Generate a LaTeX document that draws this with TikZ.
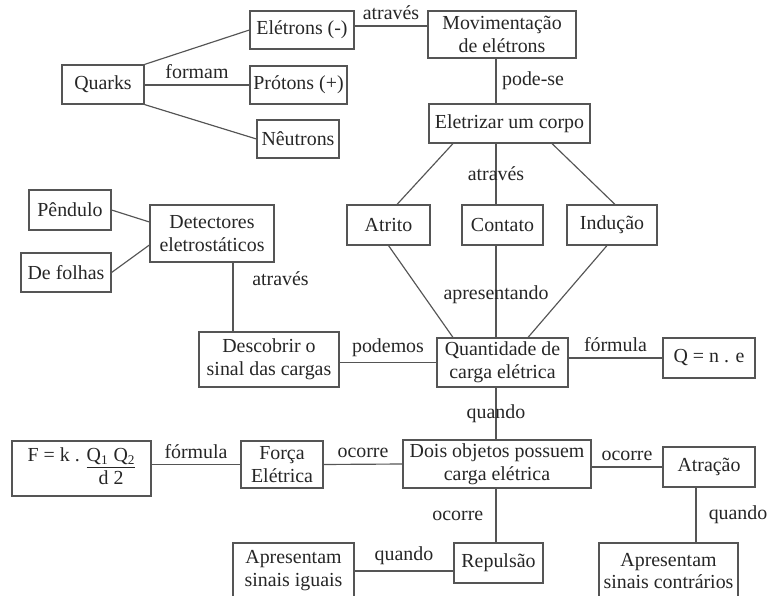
\documentclass[tikz,border=0pt]{standalone}
\usepackage{fontspec}
\setmainfont{Liberation Serif}
\usetikzlibrary{calc}
\definecolor{inkgray}{HTML}{262626}
\definecolor{linegray}{HTML}{555555}

\begin{document}
\begin{tikzpicture}[
  x=0.603pt, y=-0.603pt,
  concept/.style={draw=linegray,line width=0.7pt,inner sep=2pt,align=center,
                  font=\fontsize{12}{13.8}\selectfont,text=inkgray},
  dims/.style 2 args={minimum width=#1pt,minimum height=#2pt},
  word/.style={font=\fontsize{12}{13.8}\selectfont,text=inkgray},
  link/.style={draw=linegray,line width=0.7pt},
]
  \useasboundingbox (0,0) rectangle (767,596);

  % guide lines for the vertical connectors
  \coordinate (toprow) at (0,26);
  \coordinate (leftaxis) at (233,0);
  \coordinate (midaxis) at (496,0);
  \coordinate (rightaxis) at (696,0);

  % Particles
  \node[concept,dims={49.4}{23.5}] (quarks) at (103,84.5) {Quarks};
  \node[concept,dims={62.7}{22.9}] (eletrons) at (302,30) {Elétrons (-)};
  \node[concept,dims={58.5}{22.9}] (protons) at (298.5,85) {Prótons (+)};
  \node[concept,dims={49.4}{22.9}] (neutrons) at (298,139) {Nêutrons};

  % Electrification
  \node[concept,dims={89.2}{28.3}] (movim) at (502,34.5) {Movimentação\\de elétrons};
  \node[concept,dims={97.1}{23.5}] (eletrizar) at (509.5,123.5) {Eletrizar um corpo};
  \node[concept,dims={50}{24.1}] (atrito) at (388.5,225) {Atrito};
  \node[concept,dims={48.8}{24.1}] (contato) at (502.5,225) {Contato};
  \node[concept,dims={54.3}{24.1}] (inducao) at (612,225) {Indução};

  % Detectors
  \node[concept,dims={49.4}{24.1}] (pendulo) at (70,210) {Pêndulo};
  \node[concept,dims={54.3}{23.5}] (folhas) at (66,272.5) {De folhas};
  \node[concept,dims={74.8}{34.4}] (detect) at (212,233.5) {Detectores\\eletrostáticos};
  \node[concept,dims={84.4}{33.2}] (descobrir) at (269,359.5) {Descobrir o\\sinal das cargas};

  % Charge
  \node[concept,dims={79}{29.5}] (quant) at (502.5,362.5) {Quantidade de\\carga elétrica};
  \node[concept,dims={55.5}{24.1}] (qne) at (709,358) {Q = n . e};

  % Force between charged objects
  \node[concept,dims={83.8}{33.2}] (formula) at (81.5,468.5)
    {\begin{tabular}{@{}r@{}c@{}}F = k .\kern0.35em & \underline{Q\textsubscript{1} Q\textsubscript{2}}\\ & d 2\end{tabular}};
  \node[concept,dims={49.4}{28.3}] (forca) at (282,464.5) {Força\\Elétrica};
  \node[concept,dims={113.4}{28.9}] (dois) at (497,464) {Dois objetos possuem\\carga elétrica};
  \node[concept,dims={55.5}{24.1}] (atracao) at (709,467) {Atração};
  \node[concept,dims={53.7}{24.1}] (repulsao) at (498.5,563) {Repulsão};
  \node[concept,dims={73}{33.8}] (iguais) at (293.5,571) {Apresentam\\sinais iguais};
  \node[concept,dims={83.8}{33.8}] (contrarios) at (668.5,571) {Apresentam\\sinais contrários};

  % Connectors
  \draw[link] (quarks.north east) -- (eletrons.west);
  \draw[link] (quarks.east |- protons.west) -- node[word,above] (wformam) {formam} (protons.west);
  \draw[link] (quarks.south east) -- (neutrons.west);
  \draw[link] (eletrons.east |- toprow) -- node[word,above] (wtop) {através} (movim.west |- toprow);
  \draw[link] (movim.south -| midaxis) -- node[word,right] (wpode) {pode-se} (eletrizar.north -| midaxis);
  \draw[link] ($(eletrizar.south)+(-56.5,0)$) -- ($(atrito.north)+(8.5,0)$);
  \draw[link] (eletrizar.south -| midaxis) -- node[word] (wmeio) {através} (contato.north -| midaxis);
  \draw[link] ($(eletrizar.south)+(42.5,0)$) -- ($(inducao.north)+(3,0)$);
  \draw[link] (atrito.south) -- ($(quant.north)+(-49.5,0)$);
  \draw[link] (contato.south -| midaxis) -- node[word,pos=0.54] (wapres) {apresentando} (quant.north -| midaxis);
  \draw[link] ($(inducao.south)+(-5,0)$) -- ($(quant.north)+(25.5,0)$);
  \draw[link] (pendulo.east) -- ($(detect.west)+(0,-11.5)$);
  \draw[link] (folhas.east) -- ($(detect.west)+(0,11.5)$);
  \draw[link] (detect.south -| leftaxis) -- node[word,pos=0.23,anchor=west,xshift=8pt] (wdetect) {através} (descobrir.north -| leftaxis);
  \draw[link] (descobrir.east |- quant.west) -- node[word,above] (wpodemos) {podemos} (quant.west);
  \draw[link] (quant.east |- qne.west) -- node[word,above] (wformq) {fórmula} (qne.west);
  \draw[link] (quant.south -| midaxis) -- node[word] (wquando) {quando} (dois.north -| midaxis);
  \draw[link] (formula.east |- forca.west) -- node[word,above] (wformf) {fórmula} (forca.west);
  \draw[link] (forca.east) -- node[word,above] (wocforca) {ocorre} (dois.west);
  \draw[link] (dois.east |- atracao.west) -- node[word,above] (wocatr) {ocorre} (atracao.west);
  \draw[link] (dois.south -| midaxis) -- node[word,left,xshift=-4pt] (wocrep) {ocorre} (repulsao.north -| midaxis);
  \draw[link] (atracao.south -| rightaxis) -- node[word,right,xshift=4pt] (wqcontr) {quando} (contrarios.north -| rightaxis);
  \draw[link] (iguais.east) -- node[word,above] (wqiguais) {quando} (iguais.east -| repulsao.west);
\end{tikzpicture}
\end{document}
